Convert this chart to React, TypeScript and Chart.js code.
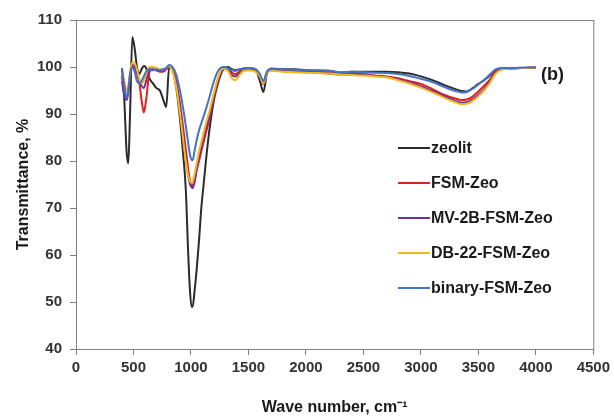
import React, { useEffect, useRef } from "react";
import { Chart, registerables } from "chart.js";

Chart.register(...registerables);

const waveNumbers = [
  400, 420, 440, 455, 470, 490, 510, 530, 550, 570,
  590, 610, 640, 670, 700, 730, 760, 785, 810, 840,
  870, 900, 930, 955, 975, 990, 1005, 1015, 1030, 1050,
  1070, 1090, 1110, 1130, 1160, 1200, 1240, 1280, 1320, 1360,
  1390, 1420, 1460, 1500, 1560, 1600, 1630, 1660, 1700, 1800,
  1900, 2000, 2100, 2200, 2300, 2400, 2500, 2600, 2700, 2800,
  2900, 3000, 3100, 3200, 3300, 3350, 3400, 3450, 3500, 3550,
  3600, 3650, 3700, 3800, 3900, 4000,
];

const zeolit = [
  99.5, 93, 82, 79.5, 90, 106.4, 104, 100, 98.5, 99.5,
  100.2, 99.8, 97.5, 96.5, 95.5, 95, 93, 91.5, 100, 99.4,
  96, 90, 82, 74, 61, 53, 49, 49, 52, 57,
  63, 70, 75, 80, 86.5, 93, 97, 99.5, 100, 99.5,
  99.3, 99.5, 99.7, 99.8, 99.5, 97, 94.7, 98.5, 99.7, 99.5,
  99.5, 99.3, 99.2, 99.2, 98.8, 99, 99, 99, 99, 98.9,
  98.6, 98, 97.2, 96.2, 95.3, 94.9, 94.8, 95.5, 96.4, 97.2,
  98.2, 99.4, 99.7, 99.8, 99.8, 99.9,
];

const fsmZeo = [
  98, 95, 93.5, 95, 98, 100, 100, 99, 97, 93,
  90.3, 93, 99, 99.5, 99.3, 99, 99, 99.5, 100, 99.8,
  97.2, 93, 87.5, 82.5, 78.5, 76, 75, 74.5, 75.5, 78,
  80, 82, 84, 86, 89, 93.5, 97.5, 99.7, 99.8, 98.7,
  98.5, 99, 99.5, 99.5, 99.3, 98, 96.5, 98.8, 99.4, 99.3,
  99.2, 99, 99, 98.8, 98.5, 98.6, 98.5, 98.2, 98, 97.6,
  97, 96.4, 95.3, 94.1, 93.3, 93, 93.1, 93.7, 94.8, 96,
  97.3, 99.2, 99.6, 99.7, 99.8, 99.9,
];

const mv2bFsmZeo = [
  97, 94, 93, 94.5, 98, 100.5, 100, 98.5, 97, 96,
  95.5, 97, 99.5, 99.5, 99.3, 99.2, 99.3, 99.6, 100, 99.5,
  96.8, 92, 86, 80.5, 77, 75.2, 74.4, 74.2, 75.5, 78.5,
  81, 83, 85, 87, 89.5, 94, 97.8, 99.6, 99.5, 98.2,
  98, 98.7, 99.3, 99.4, 99.1, 98, 96.4, 98.7, 99.3, 99.1,
  99, 98.9, 98.8, 98.6, 98.4, 98.4, 98.3, 98.1, 97.9, 97.4,
  96.7, 95.9, 94.9, 93.8, 92.8, 92.4, 92.5, 93.1, 94.1, 95.3,
  96.9, 98.8, 99.5, 99.7, 99.8, 99.9,
];

const db22FsmZeo = [
  99, 97, 95, 96, 99, 101, 100.8, 99.5, 97.5, 96.5,
  97, 98.5, 100, 100, 99.8, 99.5, 99.5, 99.8, 100.2, 99,
  96, 91, 85, 80, 77, 75.8, 75.3, 75.5, 77, 79.5,
  82, 84, 86, 88, 90.5, 94.5, 98, 99.7, 99.2, 97.5,
  97.2, 98.2, 99.2, 99.3, 99, 98, 96.5, 98.6, 99.2, 99,
  98.9, 98.8, 98.7, 98.6, 98.4, 98.3, 98.2, 98, 97.8, 97.2,
  96.5, 95.6, 94.6, 93.5, 92.5, 92.1, 92.2, 92.8, 93.8, 95,
  96.6, 98.6, 99.4, 99.7, 99.8, 99.9,
];

const binaryFsmZeo = [
  99.8, 96, 93.5, 95, 98.5, 100, 99, 97, 96.5, 97,
  98, 99, 99.5, 99.3, 99.5, 99.3, 99.5, 99.8, 100.4, 100,
  98.5, 95.5, 91.5, 87.5, 84, 81.5, 80.3, 80.2, 82, 84.5,
  86.5, 88, 89.5, 91, 93.5, 97, 99.3, 100, 99.8, 99.3,
  99.2, 99.5, 99.7, 99.8, 99.6, 98.5, 97, 99, 99.6, 99.5,
  99.4, 99.3, 99.3, 99.2, 98.9, 99, 98.9, 98.8, 98.7, 98.5,
  98.1, 97.5, 96.8, 95.8, 94.9, 94.6, 94.7, 95.4, 96.3, 97.2,
  98.4, 99.5, 99.8, 99.8, 99.9, 99.9,
];

const seriesNames = ["zeolit", "FSM-Zeo", "MV-2B-FSM-Zeo", "DB-22-FSM-Zeo", "binary-FSM-Zeo"];
const seriesValues = [zeolit, fsmZeo, mv2bFsmZeo, db22FsmZeo, binaryFsmZeo];
const seriesColors = ["#2b2b2b", "#e0201f", "#7030a0", "#f5b817", "#4472c4"];
const seriesOrder = [4, 3, 2, 1, 0];

const panelLabel = "(b)";
const xTitle = "Wave number, cm\u207B\u00B9";
const yTitle = "Transmittance, %";

const FONT = "'Liberation Sans', Arial, sans-serif";

const framePlugin = {
  id: "frameAndLegend",
  afterDatasetsDraw(chart: any) {
    const { ctx, chartArea } = chart;
    ctx.save();
    ctx.strokeStyle = "#7f7f7f";
    ctx.lineWidth = 1;
    ctx.strokeRect(chartArea.left + 0.5, chartArea.top + 0.5, chartArea.right - chartArea.left, chartArea.bottom - chartArea.top);

    // panel label
    ctx.fillStyle = "#1a1a1a";
    ctx.font = `bold 18px ${FONT}`;
    ctx.textBaseline = "middle";
    ctx.textAlign = "left";
    ctx.fillText(panelLabel, chartArea.left + 465, chartArea.top + 55);

    // legend inside plot
    const lx = chartArea.left + 322;
    const ly = chartArea.top + 128;
    const dy = 35;
    ctx.font = `bold 16px ${FONT}`;
    chart.data.datasets.forEach((ds: any, i: number) => {
      const y = ly + i * dy;
      ctx.strokeStyle = ds.borderColor;
      ctx.lineWidth = 2;
      ctx.beginPath();
      ctx.moveTo(lx, y);
      ctx.lineTo(lx + 32, y);
      ctx.stroke();
      ctx.fillStyle = "#1a1a1a";
      ctx.fillText(ds.label, lx + 33, y + 1);
    });
    ctx.restore();
  },
};

export default function App() {
  const canvasRef = useRef<HTMLCanvasElement | null>(null);

  useEffect(() => {
    document.body.style.margin = "0";
    const canvas = canvasRef.current;
    if (!canvas) return;
    const datasets = seriesNames.map((name, i) => ({
      label: name,
      data: waveNumbers.map((x, j) => ({ x, y: seriesValues[i][j] })),
      borderColor: seriesColors[i],
      backgroundColor: seriesColors[i],
      borderWidth: 2,
      pointRadius: 0,
      fill: false,
      cubicInterpolationMode: "monotone" as const,
      order: seriesOrder[i],
    }));

    const chart = new Chart(canvas, {
      type: "line",
      data: { datasets },
      plugins: [framePlugin],
      options: {
        animation: false,
        responsive: false,
        maintainAspectRatio: false,
        layout: { padding: { top: 20, right: 17, left: 0, bottom: 0 } },
        plugins: {
          legend: { display: false },
          tooltip: { enabled: false },
        },
        scales: {
          x: {
            type: "linear",
            min: 0,
            max: 4500,
            ticks: {
              stepSize: 500,
              color: "#333",
              font: { family: FONT, size: 15, weight: "bold" },
              padding: 4,
              maxRotation: 0,
              autoSkip: false,
              callback: (v: any) => String(v),
            },
            grid: { drawOnChartArea: false, tickLength: 6, color: "#7f7f7f" },
            border: { color: "#7f7f7f" },
            title: {
              display: true,
              text: xTitle,
              color: "#1a1a1a",
              font: { family: FONT, size: 16, weight: "bold", lineHeight: 1 },
              padding: { top: 0, bottom: 0 },
            },
            afterFit(scale: any) {
              scale.height = 67;
            },
          },
          y: {
            type: "linear",
            min: 40,
            max: 110,
            ticks: {
              stepSize: 10,
              color: "#333",
              font: { family: FONT, size: 15, weight: "bold" },
              padding: 8,
              callback: (v: any) => String(v),
            },
            grid: { drawOnChartArea: false, tickLength: 6, color: "#7f7f7f" },
            border: { color: "#7f7f7f" },
            title: {
              display: true,
              text: yTitle,
              color: "#1a1a1a",
              font: { family: FONT, size: 16, weight: "bold", lineHeight: 1.2 },
              padding: { top: 14, bottom: 0 },
            },
            afterFit(scale: any) {
              scale.width = 76;
            },
          },
        },
      },
    });
    return () => chart.destroy();
  }, []);

  return (
    <div style={{ width: 614, height: 416, background: "#fff" }}>
      <canvas ref={canvasRef} width={614} height={416} style={{ display: "block" }} />
    </div>
  );
}
